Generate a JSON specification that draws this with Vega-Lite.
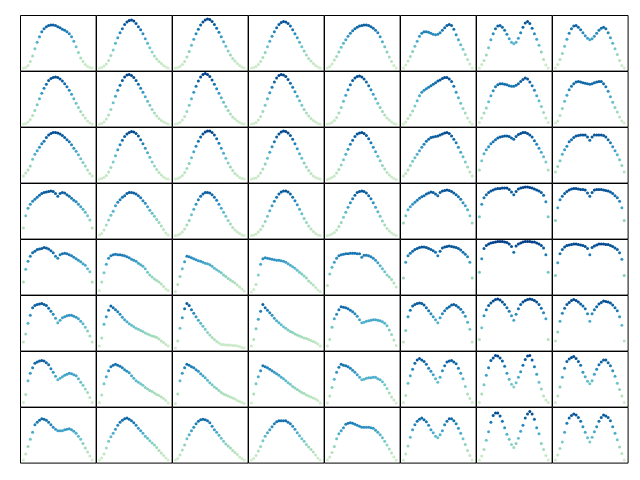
{
"$schema": "https://vega.github.io/schema/vega-lite/v6.json",
"background": "white",
"padding": {"left": 19, "top": 14, "right": 0, "bottom": 0},
"bounds": "flush",
"data": {"values": [
{"p":0,"x":0,"y":0},{"p":0,"x":1,"y":1},{"p":0,"x":2,"y":5},{"p":0,"x":3,"y":13},{"p":0,"x":4,"y":24},{"p":0,"x":5,"y":38},{"p":0,"x":6,"y":51},{"p":0,"x":7,"y":62},{"p":0,"x":8,"y":72},{"p":0,"x":9,"y":78},{"p":0,"x":10,"y":82},{"p":0,"x":11,"y":84},{"p":0,"x":12,"y":85},{"p":0,"x":13,"y":85},{"p":0,"x":14,"y":84},{"p":0,"x":15,"y":82},{"p":0,"x":16,"y":80},{"p":0,"x":17,"y":77},{"p":0,"x":18,"y":75},{"p":0,"x":19,"y":72},{"p":0,"x":20,"y":68},{"p":0,"x":21,"y":62},{"p":0,"x":22,"y":53},{"p":0,"x":23,"y":42},{"p":0,"x":24,"y":31},{"p":0,"x":25,"y":20},{"p":0,"x":26,"y":13},{"p":0,"x":27,"y":7},{"p":0,"x":28,"y":3},{"p":0,"x":29,"y":1},{"p":0,"x":30,"y":0},
{"p":1,"x":0,"y":0},{"p":1,"x":1,"y":1},{"p":1,"x":2,"y":4},{"p":1,"x":3,"y":8},{"p":1,"x":4,"y":15},{"p":1,"x":5,"y":25},{"p":1,"x":6,"y":36},{"p":1,"x":7,"y":49},{"p":1,"x":8,"y":60},{"p":1,"x":9,"y":70},{"p":1,"x":10,"y":78},{"p":1,"x":11,"y":86},{"p":1,"x":12,"y":91},{"p":1,"x":13,"y":94},{"p":1,"x":14,"y":95},{"p":1,"x":15,"y":93},{"p":1,"x":16,"y":88},{"p":1,"x":17,"y":82},{"p":1,"x":18,"y":76},{"p":1,"x":19,"y":68},{"p":1,"x":20,"y":58},{"p":1,"x":21,"y":49},{"p":1,"x":22,"y":40},{"p":1,"x":23,"y":32},{"p":1,"x":24,"y":24},{"p":1,"x":25,"y":18},{"p":1,"x":26,"y":13},{"p":1,"x":27,"y":9},{"p":1,"x":28,"y":5},{"p":1,"x":29,"y":2},{"p":1,"x":30,"y":0},
{"p":2,"x":0,"y":0},{"p":2,"x":1,"y":1},{"p":2,"x":2,"y":3},{"p":2,"x":3,"y":7},{"p":2,"x":4,"y":13},{"p":2,"x":5,"y":22},{"p":2,"x":6,"y":33},{"p":2,"x":7,"y":45},{"p":2,"x":8,"y":57},{"p":2,"x":9,"y":68},{"p":2,"x":10,"y":77},{"p":2,"x":11,"y":85},{"p":2,"x":12,"y":91},{"p":2,"x":13,"y":95},{"p":2,"x":14,"y":97},{"p":2,"x":15,"y":96},{"p":2,"x":16,"y":92},{"p":2,"x":17,"y":86},{"p":2,"x":18,"y":79},{"p":2,"x":19,"y":71},{"p":2,"x":20,"y":62},{"p":2,"x":21,"y":52},{"p":2,"x":22,"y":43},{"p":2,"x":23,"y":34},{"p":2,"x":24,"y":26},{"p":2,"x":25,"y":19},{"p":2,"x":26,"y":14},{"p":2,"x":27,"y":9},{"p":2,"x":28,"y":5},{"p":2,"x":29,"y":2},{"p":2,"x":30,"y":0},
{"p":3,"x":0,"y":0},{"p":3,"x":1,"y":1},{"p":3,"x":2,"y":3},{"p":3,"x":3,"y":7},{"p":3,"x":4,"y":13},{"p":3,"x":5,"y":21},{"p":3,"x":6,"y":31},{"p":3,"x":7,"y":42},{"p":3,"x":8,"y":53},{"p":3,"x":9,"y":63},{"p":3,"x":10,"y":72},{"p":3,"x":11,"y":80},{"p":3,"x":12,"y":86},{"p":3,"x":13,"y":90},{"p":3,"x":14,"y":92},{"p":3,"x":15,"y":91},{"p":3,"x":16,"y":88},{"p":3,"x":17,"y":83},{"p":3,"x":18,"y":76},{"p":3,"x":19,"y":68},{"p":3,"x":20,"y":60},{"p":3,"x":21,"y":51},{"p":3,"x":22,"y":42},{"p":3,"x":23,"y":34},{"p":3,"x":24,"y":26},{"p":3,"x":25,"y":19},{"p":3,"x":26,"y":14},{"p":3,"x":27,"y":9},{"p":3,"x":28,"y":5},{"p":3,"x":29,"y":2},{"p":3,"x":30,"y":0},
{"p":4,"x":0,"y":0},{"p":4,"x":1,"y":3},{"p":4,"x":2,"y":8},{"p":4,"x":3,"y":16},{"p":4,"x":4,"y":23},{"p":4,"x":5,"y":32},{"p":4,"x":6,"y":41},{"p":4,"x":7,"y":49},{"p":4,"x":8,"y":56},{"p":4,"x":9,"y":63},{"p":4,"x":10,"y":69},{"p":4,"x":11,"y":74},{"p":4,"x":12,"y":78},{"p":4,"x":13,"y":81},{"p":4,"x":14,"y":83},{"p":4,"x":15,"y":84},{"p":4,"x":16,"y":85},{"p":4,"x":17,"y":85},{"p":4,"x":18,"y":84},{"p":4,"x":19,"y":82},{"p":4,"x":20,"y":79},{"p":4,"x":21,"y":75},{"p":4,"x":22,"y":70},{"p":4,"x":23,"y":62},{"p":4,"x":24,"y":52},{"p":4,"x":25,"y":42},{"p":4,"x":26,"y":32},{"p":4,"x":27,"y":22},{"p":4,"x":28,"y":13},{"p":4,"x":29,"y":5},{"p":4,"x":30,"y":0},
{"p":5,"x":0,"y":0},{"p":5,"x":1,"y":6},{"p":5,"x":2,"y":14},{"p":5,"x":3,"y":23},{"p":5,"x":4,"y":33},{"p":5,"x":5,"y":43},{"p":5,"x":6,"y":53},{"p":5,"x":7,"y":63},{"p":5,"x":8,"y":69},{"p":5,"x":9,"y":72},{"p":5,"x":10,"y":72},{"p":5,"x":11,"y":71},{"p":5,"x":12,"y":69},{"p":5,"x":13,"y":67},{"p":5,"x":14,"y":66},{"p":5,"x":15,"y":67},{"p":5,"x":16,"y":70},{"p":5,"x":17,"y":75},{"p":5,"x":18,"y":80},{"p":5,"x":19,"y":84},{"p":5,"x":20,"y":86},{"p":5,"x":21,"y":84},{"p":5,"x":22,"y":77},{"p":5,"x":23,"y":66},{"p":5,"x":24,"y":56},{"p":5,"x":25,"y":46},{"p":5,"x":26,"y":37},{"p":5,"x":27,"y":27},{"p":5,"x":28,"y":17},{"p":5,"x":29,"y":8},{"p":5,"x":30,"y":0},
{"p":6,"x":0,"y":0},{"p":6,"x":1,"y":7},{"p":6,"x":2,"y":15},{"p":6,"x":3,"y":26},{"p":6,"x":4,"y":40},{"p":6,"x":5,"y":56},{"p":6,"x":6,"y":68},{"p":6,"x":7,"y":78},{"p":6,"x":8,"y":83},{"p":6,"x":9,"y":84},{"p":6,"x":10,"y":81},{"p":6,"x":11,"y":75},{"p":6,"x":12,"y":67},{"p":6,"x":13,"y":58},{"p":6,"x":14,"y":51},{"p":6,"x":15,"y":48},{"p":6,"x":16,"y":51},{"p":6,"x":17,"y":59},{"p":6,"x":18,"y":70},{"p":6,"x":19,"y":81},{"p":6,"x":20,"y":89},{"p":6,"x":21,"y":92},{"p":6,"x":22,"y":88},{"p":6,"x":23,"y":79},{"p":6,"x":24,"y":68},{"p":6,"x":25,"y":57},{"p":6,"x":26,"y":45},{"p":6,"x":27,"y":32},{"p":6,"x":28,"y":17},{"p":6,"x":29,"y":6},{"p":6,"x":30,"y":0},
{"p":7,"x":0,"y":0},{"p":7,"x":1,"y":7},{"p":7,"x":2,"y":17},{"p":7,"x":3,"y":29},{"p":7,"x":4,"y":43},{"p":7,"x":5,"y":57},{"p":7,"x":6,"y":69},{"p":7,"x":7,"y":78},{"p":7,"x":8,"y":83},{"p":7,"x":9,"y":84},{"p":7,"x":10,"y":81},{"p":7,"x":11,"y":76},{"p":7,"x":12,"y":70},{"p":7,"x":13,"y":64},{"p":7,"x":14,"y":59},{"p":7,"x":15,"y":56},{"p":7,"x":16,"y":58},{"p":7,"x":17,"y":63},{"p":7,"x":18,"y":69},{"p":7,"x":19,"y":75},{"p":7,"x":20,"y":79},{"p":7,"x":21,"y":81},{"p":7,"x":22,"y":78},{"p":7,"x":23,"y":70},{"p":7,"x":24,"y":60},{"p":7,"x":25,"y":49},{"p":7,"x":26,"y":38},{"p":7,"x":27,"y":27},{"p":7,"x":28,"y":15},{"p":7,"x":29,"y":5},{"p":7,"x":30,"y":0},
{"p":8,"x":0,"y":0},{"p":8,"x":1,"y":1},{"p":8,"x":2,"y":4},{"p":8,"x":3,"y":9},{"p":8,"x":4,"y":17},{"p":8,"x":5,"y":27},{"p":8,"x":6,"y":38},{"p":8,"x":7,"y":50},{"p":8,"x":8,"y":61},{"p":8,"x":9,"y":71},{"p":8,"x":10,"y":79},{"p":8,"x":11,"y":86},{"p":8,"x":12,"y":90},{"p":8,"x":13,"y":92},{"p":8,"x":14,"y":93},{"p":8,"x":15,"y":92},{"p":8,"x":16,"y":89},{"p":8,"x":17,"y":85},{"p":8,"x":18,"y":80},{"p":8,"x":19,"y":74},{"p":8,"x":20,"y":67},{"p":8,"x":21,"y":59},{"p":8,"x":22,"y":50},{"p":8,"x":23,"y":41},{"p":8,"x":24,"y":33},{"p":8,"x":25,"y":25},{"p":8,"x":26,"y":18},{"p":8,"x":27,"y":12},{"p":8,"x":28,"y":6},{"p":8,"x":29,"y":2},{"p":8,"x":30,"y":0},
{"p":9,"x":0,"y":0},{"p":9,"x":1,"y":1},{"p":9,"x":2,"y":4},{"p":9,"x":3,"y":10},{"p":9,"x":4,"y":18},{"p":9,"x":5,"y":29},{"p":9,"x":6,"y":42},{"p":9,"x":7,"y":55},{"p":9,"x":8,"y":67},{"p":9,"x":9,"y":77},{"p":9,"x":10,"y":86},{"p":9,"x":11,"y":93},{"p":9,"x":12,"y":97},{"p":9,"x":13,"y":98},{"p":9,"x":14,"y":96},{"p":9,"x":15,"y":92},{"p":9,"x":16,"y":86},{"p":9,"x":17,"y":79},{"p":9,"x":18,"y":71},{"p":9,"x":19,"y":63},{"p":9,"x":20,"y":54},{"p":9,"x":21,"y":45},{"p":9,"x":22,"y":37},{"p":9,"x":23,"y":29},{"p":9,"x":24,"y":22},{"p":9,"x":25,"y":16},{"p":9,"x":26,"y":11},{"p":9,"x":27,"y":7},{"p":9,"x":28,"y":4},{"p":9,"x":29,"y":2},{"p":9,"x":30,"y":0},
{"p":10,"x":0,"y":0},{"p":10,"x":1,"y":1},{"p":10,"x":2,"y":3},{"p":10,"x":3,"y":8},{"p":10,"x":4,"y":15},{"p":10,"x":5,"y":25},{"p":10,"x":6,"y":37},{"p":10,"x":7,"y":50},{"p":10,"x":8,"y":63},{"p":10,"x":9,"y":75},{"p":10,"x":10,"y":85},{"p":10,"x":11,"y":93},{"p":10,"x":12,"y":98},{"p":10,"x":13,"y":100},{"p":10,"x":14,"y":98},{"p":10,"x":15,"y":94},{"p":10,"x":16,"y":87},{"p":10,"x":17,"y":79},{"p":10,"x":18,"y":70},{"p":10,"x":19,"y":61},{"p":10,"x":20,"y":52},{"p":10,"x":21,"y":43},{"p":10,"x":22,"y":35},{"p":10,"x":23,"y":27},{"p":10,"x":24,"y":20},{"p":10,"x":25,"y":14},{"p":10,"x":26,"y":10},{"p":10,"x":27,"y":6},{"p":10,"x":28,"y":3},{"p":10,"x":29,"y":1},{"p":10,"x":30,"y":0},
{"p":11,"x":0,"y":0},{"p":11,"x":1,"y":1},{"p":11,"x":2,"y":3},{"p":11,"x":3,"y":8},{"p":11,"x":4,"y":15},{"p":11,"x":5,"y":25},{"p":11,"x":6,"y":37},{"p":11,"x":7,"y":50},{"p":11,"x":8,"y":62},{"p":11,"x":9,"y":73},{"p":11,"x":10,"y":83},{"p":11,"x":11,"y":91},{"p":11,"x":12,"y":96},{"p":11,"x":13,"y":98},{"p":11,"x":14,"y":97},{"p":11,"x":15,"y":94},{"p":11,"x":16,"y":88},{"p":11,"x":17,"y":81},{"p":11,"x":18,"y":73},{"p":11,"x":19,"y":64},{"p":11,"x":20,"y":55},{"p":11,"x":21,"y":46},{"p":11,"x":22,"y":37},{"p":11,"x":23,"y":29},{"p":11,"x":24,"y":22},{"p":11,"x":25,"y":16},{"p":11,"x":26,"y":11},{"p":11,"x":27,"y":7},{"p":11,"x":28,"y":4},{"p":11,"x":29,"y":1},{"p":11,"x":30,"y":0},
{"p":12,"x":0,"y":0},{"p":12,"x":1,"y":1},{"p":12,"x":2,"y":3},{"p":12,"x":3,"y":7},{"p":12,"x":4,"y":13},{"p":12,"x":5,"y":22},{"p":12,"x":6,"y":33},{"p":12,"x":7,"y":45},{"p":12,"x":8,"y":57},{"p":12,"x":9,"y":68},{"p":12,"x":10,"y":78},{"p":12,"x":11,"y":86},{"p":12,"x":12,"y":91},{"p":12,"x":13,"y":94},{"p":12,"x":14,"y":95},{"p":12,"x":15,"y":93},{"p":12,"x":16,"y":89},{"p":12,"x":17,"y":83},{"p":12,"x":18,"y":76},{"p":12,"x":19,"y":68},{"p":12,"x":20,"y":59},{"p":12,"x":21,"y":50},{"p":12,"x":22,"y":41},{"p":12,"x":23,"y":33},{"p":12,"x":24,"y":25},{"p":12,"x":25,"y":18},{"p":12,"x":26,"y":12},{"p":12,"x":27,"y":8},{"p":12,"x":28,"y":4},{"p":12,"x":29,"y":1},{"p":12,"x":30,"y":0},
{"p":13,"x":0,"y":0},{"p":13,"x":1,"y":4},{"p":13,"x":2,"y":11},{"p":13,"x":3,"y":18},{"p":13,"x":4,"y":26},{"p":13,"x":5,"y":36},{"p":13,"x":6,"y":46},{"p":13,"x":7,"y":56},{"p":13,"x":8,"y":63},{"p":13,"x":9,"y":67},{"p":13,"x":10,"y":70},{"p":13,"x":11,"y":73},{"p":13,"x":12,"y":76},{"p":13,"x":13,"y":79},{"p":13,"x":14,"y":82},{"p":13,"x":15,"y":85},{"p":13,"x":16,"y":87},{"p":13,"x":17,"y":90},{"p":13,"x":18,"y":92},{"p":13,"x":19,"y":92},{"p":13,"x":20,"y":89},{"p":13,"x":21,"y":84},{"p":13,"x":22,"y":75},{"p":13,"x":23,"y":63},{"p":13,"x":24,"y":52},{"p":13,"x":25,"y":41},{"p":13,"x":26,"y":31},{"p":13,"x":27,"y":22},{"p":13,"x":28,"y":12},{"p":13,"x":29,"y":4},{"p":13,"x":30,"y":0},
{"p":14,"x":0,"y":3},{"p":14,"x":1,"y":12},{"p":14,"x":2,"y":22},{"p":14,"x":3,"y":32},{"p":14,"x":4,"y":44},{"p":14,"x":5,"y":56},{"p":14,"x":6,"y":66},{"p":14,"x":7,"y":74},{"p":14,"x":8,"y":78},{"p":14,"x":9,"y":80},{"p":14,"x":10,"y":80},{"p":14,"x":11,"y":79},{"p":14,"x":12,"y":78},{"p":14,"x":13,"y":76},{"p":14,"x":14,"y":75},{"p":14,"x":15,"y":75},{"p":14,"x":16,"y":77},{"p":14,"x":17,"y":80},{"p":14,"x":18,"y":84},{"p":14,"x":19,"y":88},{"p":14,"x":20,"y":91},{"p":14,"x":21,"y":89},{"p":14,"x":22,"y":83},{"p":14,"x":23,"y":76},{"p":14,"x":24,"y":67},{"p":14,"x":25,"y":56},{"p":14,"x":26,"y":46},{"p":14,"x":27,"y":35},{"p":14,"x":28,"y":23},{"p":14,"x":29,"y":12},{"p":14,"x":30,"y":3},
{"p":15,"x":0,"y":2},{"p":15,"x":1,"y":6},{"p":15,"x":2,"y":17},{"p":15,"x":3,"y":31},{"p":15,"x":4,"y":45},{"p":15,"x":5,"y":57},{"p":15,"x":6,"y":68},{"p":15,"x":7,"y":75},{"p":15,"x":8,"y":80},{"p":15,"x":9,"y":83},{"p":15,"x":10,"y":84},{"p":15,"x":11,"y":83},{"p":15,"x":12,"y":82},{"p":15,"x":13,"y":81},{"p":15,"x":14,"y":80},{"p":15,"x":15,"y":79},{"p":15,"x":16,"y":80},{"p":15,"x":17,"y":82},{"p":15,"x":18,"y":83},{"p":15,"x":19,"y":84},{"p":15,"x":20,"y":84},{"p":15,"x":21,"y":80},{"p":15,"x":22,"y":74},{"p":15,"x":23,"y":65},{"p":15,"x":24,"y":54},{"p":15,"x":25,"y":43},{"p":15,"x":26,"y":33},{"p":15,"x":27,"y":24},{"p":15,"x":28,"y":14},{"p":15,"x":29,"y":6},{"p":15,"x":30,"y":2},
{"p":16,"x":0,"y":8},{"p":16,"x":1,"y":14},{"p":16,"x":2,"y":20},{"p":16,"x":3,"y":28},{"p":16,"x":4,"y":41},{"p":16,"x":5,"y":51},{"p":16,"x":6,"y":58},{"p":16,"x":7,"y":65},{"p":16,"x":8,"y":72},{"p":16,"x":9,"y":77},{"p":16,"x":10,"y":84},{"p":16,"x":11,"y":89},{"p":16,"x":12,"y":92},{"p":16,"x":13,"y":94},{"p":16,"x":14,"y":94},{"p":16,"x":15,"y":93},{"p":16,"x":16,"y":91},{"p":16,"x":17,"y":88},{"p":16,"x":18,"y":84},{"p":16,"x":19,"y":80},{"p":16,"x":20,"y":76},{"p":16,"x":21,"y":70},{"p":16,"x":22,"y":63},{"p":16,"x":23,"y":57},{"p":16,"x":24,"y":50},{"p":16,"x":25,"y":42},{"p":16,"x":26,"y":35},{"p":16,"x":27,"y":28},{"p":16,"x":28,"y":20},{"p":16,"x":29,"y":13},{"p":16,"x":30,"y":8},
{"p":17,"x":0,"y":2},{"p":17,"x":1,"y":3},{"p":17,"x":2,"y":5},{"p":17,"x":3,"y":9},{"p":17,"x":4,"y":16},{"p":17,"x":5,"y":25},{"p":17,"x":6,"y":36},{"p":17,"x":7,"y":48},{"p":17,"x":8,"y":60},{"p":17,"x":9,"y":70},{"p":17,"x":10,"y":79},{"p":17,"x":11,"y":86},{"p":17,"x":12,"y":91},{"p":17,"x":13,"y":94},{"p":17,"x":14,"y":96},{"p":17,"x":15,"y":95},{"p":17,"x":16,"y":92},{"p":17,"x":17,"y":87},{"p":17,"x":18,"y":80},{"p":17,"x":19,"y":72},{"p":17,"x":20,"y":63},{"p":17,"x":21,"y":54},{"p":17,"x":22,"y":45},{"p":17,"x":23,"y":36},{"p":17,"x":24,"y":28},{"p":17,"x":25,"y":21},{"p":17,"x":26,"y":15},{"p":17,"x":27,"y":10},{"p":17,"x":28,"y":6},{"p":17,"x":29,"y":3},{"p":17,"x":30,"y":2},
{"p":18,"x":0,"y":2},{"p":18,"x":1,"y":3},{"p":18,"x":2,"y":5},{"p":18,"x":3,"y":9},{"p":18,"x":4,"y":15},{"p":18,"x":5,"y":23},{"p":18,"x":6,"y":33},{"p":18,"x":7,"y":44},{"p":18,"x":8,"y":56},{"p":18,"x":9,"y":67},{"p":18,"x":10,"y":77},{"p":18,"x":11,"y":85},{"p":18,"x":12,"y":91},{"p":18,"x":13,"y":95},{"p":18,"x":14,"y":97},{"p":18,"x":15,"y":97},{"p":18,"x":16,"y":94},{"p":18,"x":17,"y":89},{"p":18,"x":18,"y":82},{"p":18,"x":19,"y":73},{"p":18,"x":20,"y":63},{"p":18,"x":21,"y":53},{"p":18,"x":22,"y":43},{"p":18,"x":23,"y":34},{"p":18,"x":24,"y":26},{"p":18,"x":25,"y":19},{"p":18,"x":26,"y":13},{"p":18,"x":27,"y":9},{"p":18,"x":28,"y":5},{"p":18,"x":29,"y":3},{"p":18,"x":30,"y":2},
{"p":19,"x":0,"y":2},{"p":19,"x":1,"y":3},{"p":19,"x":2,"y":4},{"p":19,"x":3,"y":8},{"p":19,"x":4,"y":14},{"p":19,"x":5,"y":22},{"p":19,"x":6,"y":32},{"p":19,"x":7,"y":43},{"p":19,"x":8,"y":55},{"p":19,"x":9,"y":66},{"p":19,"x":10,"y":76},{"p":19,"x":11,"y":85},{"p":19,"x":12,"y":91},{"p":19,"x":13,"y":95},{"p":19,"x":14,"y":97},{"p":19,"x":15,"y":96},{"p":19,"x":16,"y":93},{"p":19,"x":17,"y":88},{"p":19,"x":18,"y":81},{"p":19,"x":19,"y":72},{"p":19,"x":20,"y":62},{"p":19,"x":21,"y":52},{"p":19,"x":22,"y":43},{"p":19,"x":23,"y":34},{"p":19,"x":24,"y":26},{"p":19,"x":25,"y":19},{"p":19,"x":26,"y":13},{"p":19,"x":27,"y":8},{"p":19,"x":28,"y":5},{"p":19,"x":29,"y":3},{"p":19,"x":30,"y":2},
{"p":20,"x":0,"y":1},{"p":20,"x":1,"y":3},{"p":20,"x":2,"y":5},{"p":20,"x":3,"y":8},{"p":20,"x":4,"y":14},{"p":20,"x":5,"y":21},{"p":20,"x":6,"y":30},{"p":20,"x":7,"y":40},{"p":20,"x":8,"y":51},{"p":20,"x":9,"y":61},{"p":20,"x":10,"y":71},{"p":20,"x":11,"y":79},{"p":20,"x":12,"y":86},{"p":20,"x":13,"y":91},{"p":20,"x":14,"y":93},{"p":20,"x":15,"y":94},{"p":20,"x":16,"y":92},{"p":20,"x":17,"y":88},{"p":20,"x":18,"y":82},{"p":20,"x":19,"y":74},{"p":20,"x":20,"y":65},{"p":20,"x":21,"y":56},{"p":20,"x":22,"y":47},{"p":20,"x":23,"y":38},{"p":20,"x":24,"y":29},{"p":20,"x":25,"y":22},{"p":20,"x":26,"y":15},{"p":20,"x":27,"y":10},{"p":20,"x":28,"y":6},{"p":20,"x":29,"y":3},{"p":20,"x":30,"y":1},
{"p":21,"x":0,"y":8},{"p":21,"x":1,"y":13},{"p":21,"x":2,"y":20},{"p":21,"x":3,"y":29},{"p":21,"x":4,"y":37},{"p":21,"x":5,"y":44},{"p":21,"x":6,"y":51},{"p":21,"x":7,"y":58},{"p":21,"x":8,"y":65},{"p":21,"x":9,"y":71},{"p":21,"x":10,"y":77},{"p":21,"x":11,"y":81},{"p":21,"x":12,"y":84},{"p":21,"x":13,"y":85},{"p":21,"x":14,"y":86},{"p":21,"x":15,"y":87},{"p":21,"x":16,"y":89},{"p":21,"x":17,"y":91},{"p":21,"x":18,"y":93},{"p":21,"x":19,"y":94},{"p":21,"x":20,"y":92},{"p":21,"x":21,"y":87},{"p":21,"x":22,"y":81},{"p":21,"x":23,"y":74},{"p":21,"x":24,"y":65},{"p":21,"x":25,"y":55},{"p":21,"x":26,"y":46},{"p":21,"x":27,"y":36},{"p":21,"x":28,"y":26},{"p":21,"x":29,"y":16},{"p":21,"x":30,"y":8},
{"p":22,"x":0,"y":20},{"p":22,"x":1,"y":38},{"p":22,"x":2,"y":52},{"p":22,"x":3,"y":60},{"p":22,"x":4,"y":66},{"p":22,"x":5,"y":72},{"p":22,"x":6,"y":76},{"p":22,"x":7,"y":80},{"p":22,"x":8,"y":83},{"p":22,"x":9,"y":85},{"p":22,"x":10,"y":86},{"p":22,"x":11,"y":87},{"p":22,"x":12,"y":87},{"p":22,"x":13,"y":86},{"p":22,"x":14,"y":83},{"p":22,"x":15,"y":81},{"p":22,"x":16,"y":86},{"p":22,"x":17,"y":90},{"p":22,"x":18,"y":92},{"p":22,"x":19,"y":94},{"p":22,"x":20,"y":94},{"p":22,"x":21,"y":92},{"p":22,"x":22,"y":89},{"p":22,"x":23,"y":85},{"p":22,"x":24,"y":78},{"p":22,"x":25,"y":71},{"p":22,"x":26,"y":63},{"p":22,"x":27,"y":55},{"p":22,"x":28,"y":46},{"p":22,"x":29,"y":36},{"p":22,"x":30,"y":20},
{"p":23,"x":0,"y":16},{"p":23,"x":1,"y":27},{"p":23,"x":2,"y":38},{"p":23,"x":3,"y":51},{"p":23,"x":4,"y":60},{"p":23,"x":5,"y":67},{"p":23,"x":6,"y":76},{"p":23,"x":7,"y":80},{"p":23,"x":8,"y":84},{"p":23,"x":9,"y":87},{"p":23,"x":10,"y":88},{"p":23,"x":11,"y":89},{"p":23,"x":12,"y":89},{"p":23,"x":13,"y":89},{"p":23,"x":14,"y":85},{"p":23,"x":15,"y":79},{"p":23,"x":16,"y":85},{"p":23,"x":17,"y":89},{"p":23,"x":18,"y":89},{"p":23,"x":19,"y":89},{"p":23,"x":20,"y":89},{"p":23,"x":21,"y":88},{"p":23,"x":22,"y":85},{"p":23,"x":23,"y":80},{"p":23,"x":24,"y":74},{"p":23,"x":25,"y":66},{"p":23,"x":26,"y":58},{"p":23,"x":27,"y":50},{"p":23,"x":28,"y":40},{"p":23,"x":29,"y":29},{"p":23,"x":30,"y":16},
{"p":24,"x":0,"y":16},{"p":24,"x":1,"y":40},{"p":24,"x":2,"y":55},{"p":24,"x":3,"y":63},{"p":24,"x":4,"y":69},{"p":24,"x":5,"y":73},{"p":24,"x":6,"y":77},{"p":24,"x":7,"y":81},{"p":24,"x":8,"y":84},{"p":24,"x":9,"y":86},{"p":24,"x":10,"y":87},{"p":24,"x":11,"y":88},{"p":24,"x":12,"y":89},{"p":24,"x":13,"y":88},{"p":24,"x":14,"y":84},{"p":24,"x":15,"y":79},{"p":24,"x":16,"y":84},{"p":24,"x":17,"y":86},{"p":24,"x":18,"y":85},{"p":24,"x":19,"y":82},{"p":24,"x":20,"y":79},{"p":24,"x":21,"y":75},{"p":24,"x":22,"y":71},{"p":24,"x":23,"y":68},{"p":24,"x":24,"y":63},{"p":24,"x":25,"y":58},{"p":24,"x":26,"y":53},{"p":24,"x":27,"y":47},{"p":24,"x":28,"y":40},{"p":24,"x":29,"y":32},{"p":24,"x":30,"y":16},
{"p":25,"x":0,"y":2},{"p":25,"x":1,"y":5},{"p":25,"x":2,"y":12},{"p":25,"x":3,"y":22},{"p":25,"x":4,"y":32},{"p":25,"x":5,"y":41},{"p":25,"x":6,"y":49},{"p":25,"x":7,"y":60},{"p":25,"x":8,"y":67},{"p":25,"x":9,"y":72},{"p":25,"x":10,"y":77},{"p":25,"x":11,"y":80},{"p":25,"x":12,"y":84},{"p":25,"x":13,"y":86},{"p":25,"x":14,"y":86},{"p":25,"x":15,"y":85},{"p":25,"x":16,"y":83},{"p":25,"x":17,"y":80},{"p":25,"x":18,"y":76},{"p":25,"x":19,"y":70},{"p":25,"x":20,"y":65},{"p":25,"x":21,"y":58},{"p":25,"x":22,"y":51},{"p":25,"x":23,"y":45},{"p":25,"x":24,"y":39},{"p":25,"x":25,"y":33},{"p":25,"x":26,"y":27},{"p":25,"x":27,"y":20},{"p":25,"x":28,"y":13},{"p":25,"x":29,"y":6},{"p":25,"x":30,"y":2},
{"p":26,"x":0,"y":1},{"p":26,"x":1,"y":2},{"p":26,"x":2,"y":4},{"p":26,"x":3,"y":8},{"p":26,"x":4,"y":14},{"p":26,"x":5,"y":22},{"p":26,"x":6,"y":31},{"p":26,"x":7,"y":42},{"p":26,"x":8,"y":53},{"p":26,"x":9,"y":63},{"p":26,"x":10,"y":72},{"p":26,"x":11,"y":79},{"p":26,"x":12,"y":83},{"p":26,"x":13,"y":86},{"p":26,"x":14,"y":86},{"p":26,"x":15,"y":85},{"p":26,"x":16,"y":82},{"p":26,"x":17,"y":77},{"p":26,"x":18,"y":71},{"p":26,"x":19,"y":63},{"p":26,"x":20,"y":55},{"p":26,"x":21,"y":47},{"p":26,"x":22,"y":39},{"p":26,"x":23,"y":31},{"p":26,"x":24,"y":24},{"p":26,"x":25,"y":17},{"p":26,"x":26,"y":12},{"p":26,"x":27,"y":8},{"p":26,"x":28,"y":5},{"p":26,"x":29,"y":2},{"p":26,"x":30,"y":1},
{"p":27,"x":0,"y":1},{"p":27,"x":1,"y":2},{"p":27,"x":2,"y":4},{"p":27,"x":3,"y":8},{"p":27,"x":4,"y":13},{"p":27,"x":5,"y":20},{"p":27,"x":6,"y":29},{"p":27,"x":7,"y":39},{"p":27,"x":8,"y":50},{"p":27,"x":9,"y":60},{"p":27,"x":10,"y":69},{"p":27,"x":11,"y":77},{"p":27,"x":12,"y":83},{"p":27,"x":13,"y":87},{"p":27,"x":14,"y":89},{"p":27,"x":15,"y":89},{"p":27,"x":16,"y":87},{"p":27,"x":17,"y":83},{"p":27,"x":18,"y":77},{"p":27,"x":19,"y":70},{"p":27,"x":20,"y":62},{"p":27,"x":21,"y":53},{"p":27,"x":22,"y":44},{"p":27,"x":23,"y":35},{"p":27,"x":24,"y":27},{"p":27,"x":25,"y":20},{"p":27,"x":26,"y":14},{"p":27,"x":27,"y":9},{"p":27,"x":28,"y":5},{"p":27,"x":29,"y":2},{"p":27,"x":30,"y":1},
{"p":28,"x":0,"y":1},{"p":28,"x":1,"y":2},{"p":28,"x":2,"y":4},{"p":28,"x":3,"y":7},{"p":28,"x":4,"y":12},{"p":28,"x":5,"y":19},{"p":28,"x":6,"y":27},{"p":28,"x":7,"y":37},{"p":28,"x":8,"y":47},{"p":28,"x":9,"y":57},{"p":28,"x":10,"y":66},{"p":28,"x":11,"y":74},{"p":28,"x":12,"y":81},{"p":28,"x":13,"y":86},{"p":28,"x":14,"y":88},{"p":28,"x":15,"y":89},{"p":28,"x":16,"y":88},{"p":28,"x":17,"y":85},{"p":28,"x":18,"y":80},{"p":28,"x":19,"y":74},{"p":28,"x":20,"y":66},{"p":28,"x":21,"y":57},{"p":28,"x":22,"y":48},{"p":28,"x":23,"y":39},{"p":28,"x":24,"y":30},{"p":28,"x":25,"y":22},{"p":28,"x":26,"y":15},{"p":28,"x":27,"y":10},{"p":28,"x":28,"y":6},{"p":28,"x":29,"y":3},{"p":28,"x":30,"y":1},
{"p":29,"x":0,"y":26},{"p":29,"x":1,"y":40},{"p":29,"x":2,"y":52},{"p":29,"x":3,"y":58},{"p":29,"x":4,"y":63},{"p":29,"x":5,"y":67},{"p":29,"x":6,"y":71},{"p":29,"x":7,"y":75},{"p":29,"x":8,"y":78},{"p":29,"x":9,"y":80},{"p":29,"x":10,"y":83},{"p":29,"x":11,"y":85},{"p":29,"x":12,"y":87},{"p":29,"x":13,"y":86},{"p":29,"x":14,"y":83},{"p":29,"x":15,"y":80},{"p":29,"x":16,"y":86},{"p":29,"x":17,"y":89},{"p":29,"x":18,"y":90},{"p":29,"x":19,"y":91},{"p":29,"x":20,"y":90},{"p":29,"x":21,"y":88},{"p":29,"x":22,"y":85},{"p":29,"x":23,"y":82},{"p":29,"x":24,"y":78},{"p":29,"x":25,"y":73},{"p":29,"x":26,"y":66},{"p":29,"x":27,"y":60},{"p":29,"x":28,"y":52},{"p":29,"x":29,"y":40},{"p":29,"x":30,"y":26},
{"p":30,"x":0,"y":38},{"p":30,"x":1,"y":63},{"p":30,"x":2,"y":76},{"p":30,"x":3,"y":82},{"p":30,"x":4,"y":86},{"p":30,"x":5,"y":89},{"p":30,"x":6,"y":91},{"p":30,"x":7,"y":93},{"p":30,"x":8,"y":94},{"p":30,"x":9,"y":94},{"p":30,"x":10,"y":95},{"p":30,"x":11,"y":95},{"p":30,"x":12,"y":95},{"p":30,"x":13,"y":92},{"p":30,"x":14,"y":87},{"p":30,"x":15,"y":82},{"p":30,"x":16,"y":88},{"p":30,"x":17,"y":93},{"p":30,"x":18,"y":95},{"p":30,"x":19,"y":96},{"p":30,"x":20,"y":97},{"p":30,"x":21,"y":97},{"p":30,"x":22,"y":96},{"p":30,"x":23,"y":95},{"p":30,"x":24,"y":93},{"p":30,"x":25,"y":91},{"p":30,"x":26,"y":89},{"p":30,"x":27,"y":86},{"p":30,"x":28,"y":81},{"p":30,"x":29,"y":68},{"p":30,"x":30,"y":38},
{"p":31,"x":0,"y":31},{"p":31,"x":1,"y":56},{"p":31,"x":2,"y":72},{"p":31,"x":3,"y":79},{"p":31,"x":4,"y":84},{"p":31,"x":5,"y":88},{"p":31,"x":6,"y":91},{"p":31,"x":7,"y":93},{"p":31,"x":8,"y":94},{"p":31,"x":9,"y":94},{"p":31,"x":10,"y":93},{"p":31,"x":11,"y":92},{"p":31,"x":12,"y":92},{"p":31,"x":13,"y":91},{"p":31,"x":14,"y":85},{"p":31,"x":15,"y":79},{"p":31,"x":16,"y":86},{"p":31,"x":17,"y":91},{"p":31,"x":18,"y":92},{"p":31,"x":19,"y":92},{"p":31,"x":20,"y":92},{"p":31,"x":21,"y":91},{"p":31,"x":22,"y":90},{"p":31,"x":23,"y":89},{"p":31,"x":24,"y":87},{"p":31,"x":25,"y":84},{"p":31,"x":26,"y":80},{"p":31,"x":27,"y":76},{"p":31,"x":28,"y":69},{"p":31,"x":29,"y":56},{"p":31,"x":30,"y":31},
{"p":32,"x":0,"y":20},{"p":32,"x":1,"y":45},{"p":32,"x":2,"y":61},{"p":32,"x":3,"y":71},{"p":32,"x":4,"y":78},{"p":32,"x":5,"y":81},{"p":32,"x":6,"y":84},{"p":32,"x":7,"y":85},{"p":32,"x":8,"y":86},{"p":32,"x":9,"y":88},{"p":32,"x":10,"y":87},{"p":32,"x":11,"y":85},{"p":32,"x":12,"y":82},{"p":32,"x":13,"y":78},{"p":32,"x":14,"y":71},{"p":32,"x":15,"y":67},{"p":32,"x":16,"y":74},{"p":32,"x":17,"y":76},{"p":32,"x":18,"y":77},{"p":32,"x":19,"y":76},{"p":32,"x":20,"y":74},{"p":32,"x":21,"y":72},{"p":32,"x":22,"y":69},{"p":32,"x":23,"y":66},{"p":32,"x":24,"y":63},{"p":32,"x":25,"y":60},{"p":32,"x":26,"y":56},{"p":32,"x":27,"y":53},{"p":32,"x":28,"y":46},{"p":32,"x":29,"y":40},{"p":32,"x":30,"y":20},
{"p":33,"x":0,"y":3},{"p":33,"x":1,"y":20},{"p":33,"x":2,"y":38},{"p":33,"x":3,"y":55},{"p":33,"x":4,"y":67},{"p":33,"x":5,"y":72},{"p":33,"x":6,"y":74},{"p":33,"x":7,"y":75},{"p":33,"x":8,"y":74},{"p":33,"x":9,"y":74},{"p":33,"x":10,"y":73},{"p":33,"x":11,"y":72},{"p":33,"x":12,"y":70},{"p":33,"x":13,"y":68},{"p":33,"x":14,"y":65},{"p":33,"x":15,"y":63},{"p":33,"x":16,"y":61},{"p":33,"x":17,"y":57},{"p":33,"x":18,"y":54},{"p":33,"x":19,"y":51},{"p":33,"x":20,"y":46},{"p":33,"x":21,"y":39},{"p":33,"x":22,"y":34},{"p":33,"x":23,"y":30},{"p":33,"x":24,"y":26},{"p":33,"x":25,"y":23},{"p":33,"x":26,"y":20},{"p":33,"x":27,"y":16},{"p":33,"x":28,"y":11},{"p":33,"x":29,"y":6},{"p":33,"x":30,"y":3},
{"p":34,"x":0,"y":1},{"p":34,"x":1,"y":15},{"p":34,"x":2,"y":31},{"p":34,"x":3,"y":46},{"p":34,"x":4,"y":60},{"p":34,"x":5,"y":71},{"p":34,"x":6,"y":70},{"p":34,"x":7,"y":68},{"p":34,"x":8,"y":66},{"p":34,"x":9,"y":64},{"p":34,"x":10,"y":62},{"p":34,"x":11,"y":61},{"p":34,"x":12,"y":59},{"p":34,"x":13,"y":57},{"p":34,"x":14,"y":56},{"p":34,"x":15,"y":54},{"p":34,"x":16,"y":51},{"p":34,"x":17,"y":47},{"p":34,"x":18,"y":44},{"p":34,"x":19,"y":41},{"p":34,"x":20,"y":38},{"p":34,"x":21,"y":34},{"p":34,"x":22,"y":31},{"p":34,"x":23,"y":27},{"p":34,"x":24,"y":24},{"p":34,"x":25,"y":21},{"p":34,"x":26,"y":18},{"p":34,"x":27,"y":14},{"p":34,"x":28,"y":10},{"p":34,"x":29,"y":6},{"p":34,"x":30,"y":2},
{"p":35,"x":0,"y":0},{"p":35,"x":1,"y":5},{"p":35,"x":2,"y":15},{"p":35,"x":3,"y":34},{"p":35,"x":4,"y":55},{"p":35,"x":5,"y":66},{"p":35,"x":6,"y":68},{"p":35,"x":7,"y":67},{"p":35,"x":8,"y":66},{"p":35,"x":9,"y":65},{"p":35,"x":10,"y":64},{"p":35,"x":11,"y":63},{"p":35,"x":12,"y":63},{"p":35,"x":13,"y":62},{"p":35,"x":14,"y":61},{"p":35,"x":15,"y":59},{"p":35,"x":16,"y":56},{"p":35,"x":17,"y":53},{"p":35,"x":18,"y":50},{"p":35,"x":19,"y":47},{"p":35,"x":20,"y":43},{"p":35,"x":21,"y":39},{"p":35,"x":22,"y":36},{"p":35,"x":23,"y":32},{"p":35,"x":24,"y":28},{"p":35,"x":25,"y":22},{"p":35,"x":26,"y":18},{"p":35,"x":27,"y":14},{"p":35,"x":28,"y":9},{"p":35,"x":29,"y":4},{"p":35,"x":30,"y":1},
{"p":36,"x":0,"y":13},{"p":36,"x":1,"y":36},{"p":36,"x":2,"y":49},{"p":36,"x":3,"y":59},{"p":36,"x":4,"y":67},{"p":36,"x":5,"y":72},{"p":36,"x":6,"y":74},{"p":36,"x":7,"y":75},{"p":36,"x":8,"y":76},{"p":36,"x":9,"y":76},{"p":36,"x":10,"y":77},{"p":36,"x":11,"y":77},{"p":36,"x":12,"y":77},{"p":36,"x":13,"y":76},{"p":36,"x":14,"y":76},{"p":36,"x":15,"y":69},{"p":36,"x":16,"y":73},{"p":36,"x":17,"y":73},{"p":36,"x":18,"y":72},{"p":36,"x":19,"y":70},{"p":36,"x":20,"y":67},{"p":36,"x":21,"y":63},{"p":36,"x":22,"y":58},{"p":36,"x":23,"y":52},{"p":36,"x":24,"y":46},{"p":36,"x":25,"y":40},{"p":36,"x":26,"y":34},{"p":36,"x":27,"y":30},{"p":36,"x":28,"y":25},{"p":36,"x":29,"y":18},{"p":36,"x":30,"y":10},
{"p":37,"x":0,"y":28},{"p":37,"x":1,"y":59},{"p":37,"x":2,"y":72},{"p":37,"x":3,"y":77},{"p":37,"x":4,"y":81},{"p":37,"x":5,"y":84},{"p":37,"x":6,"y":86},{"p":37,"x":7,"y":88},{"p":37,"x":8,"y":89},{"p":37,"x":9,"y":89},{"p":37,"x":10,"y":88},{"p":37,"x":11,"y":86},{"p":37,"x":12,"y":84},{"p":37,"x":13,"y":82},{"p":37,"x":14,"y":79},{"p":37,"x":15,"y":72},{"p":37,"x":16,"y":81},{"p":37,"x":17,"y":87},{"p":37,"x":18,"y":89},{"p":37,"x":19,"y":90},{"p":37,"x":20,"y":91},{"p":37,"x":21,"y":90},{"p":37,"x":22,"y":89},{"p":37,"x":23,"y":88},{"p":37,"x":24,"y":86},{"p":37,"x":25,"y":83},{"p":37,"x":26,"y":79},{"p":37,"x":27,"y":75},{"p":37,"x":28,"y":70},{"p":37,"x":29,"y":59},{"p":37,"x":30,"y":28},
{"p":38,"x":0,"y":39},{"p":38,"x":1,"y":66},{"p":38,"x":2,"y":86},{"p":38,"x":3,"y":92},{"p":38,"x":4,"y":95},{"p":38,"x":5,"y":97},{"p":38,"x":6,"y":98},{"p":38,"x":7,"y":99},{"p":38,"x":8,"y":100},{"p":38,"x":9,"y":100},{"p":38,"x":10,"y":100},{"p":38,"x":11,"y":99},{"p":38,"x":12,"y":98},{"p":38,"x":13,"y":95},{"p":38,"x":14,"y":90},{"p":38,"x":15,"y":79},{"p":38,"x":16,"y":91},{"p":38,"x":17,"y":95},{"p":38,"x":18,"y":97},{"p":38,"x":19,"y":99},{"p":38,"x":20,"y":100},{"p":38,"x":21,"y":100},{"p":38,"x":22,"y":100},{"p":38,"x":23,"y":99},{"p":38,"x":24,"y":99},{"p":38,"x":25,"y":97},{"p":38,"x":26,"y":95},{"p":38,"x":27,"y":92},{"p":38,"x":28,"y":87},{"p":38,"x":29,"y":74},{"p":38,"x":30,"y":39},
{"p":39,"x":0,"y":33},{"p":39,"x":1,"y":58},{"p":39,"x":2,"y":76},{"p":39,"x":3,"y":84},{"p":39,"x":4,"y":89},{"p":39,"x":5,"y":92},{"p":39,"x":6,"y":93},{"p":39,"x":7,"y":94},{"p":39,"x":8,"y":95},{"p":39,"x":9,"y":95},{"p":39,"x":10,"y":94},{"p":39,"x":11,"y":93},{"p":39,"x":12,"y":92},{"p":39,"x":13,"y":90},{"p":39,"x":14,"y":86},{"p":39,"x":15,"y":74},{"p":39,"x":16,"y":88},{"p":39,"x":17,"y":91},{"p":39,"x":18,"y":93},{"p":39,"x":19,"y":95},{"p":39,"x":20,"y":95},{"p":39,"x":21,"y":95},{"p":39,"x":22,"y":94},{"p":39,"x":23,"y":94},{"p":39,"x":24,"y":92},{"p":39,"x":25,"y":90},{"p":39,"x":26,"y":87},{"p":39,"x":27,"y":84},{"p":39,"x":28,"y":78},{"p":39,"x":29,"y":65},{"p":39,"x":30,"y":33},
{"p":40,"x":0,"y":12},{"p":40,"x":1,"y":28},{"p":40,"x":2,"y":49},{"p":40,"x":3,"y":65},{"p":40,"x":4,"y":80},{"p":40,"x":5,"y":84},{"p":40,"x":6,"y":86},{"p":40,"x":7,"y":87},{"p":40,"x":8,"y":88},{"p":40,"x":9,"y":86},{"p":40,"x":10,"y":84},{"p":40,"x":11,"y":79},{"p":40,"x":12,"y":73},{"p":40,"x":13,"y":67},{"p":40,"x":14,"y":59},{"p":40,"x":15,"y":50},{"p":40,"x":16,"y":55},{"p":40,"x":17,"y":60},{"p":40,"x":18,"y":62},{"p":40,"x":19,"y":64},{"p":40,"x":20,"y":65},{"p":40,"x":21,"y":65},{"p":40,"x":22,"y":63},{"p":40,"x":23,"y":61},{"p":40,"x":24,"y":58},{"p":40,"x":25,"y":53},{"p":40,"x":26,"y":48},{"p":40,"x":27,"y":41},{"p":40,"x":28,"y":34},{"p":40,"x":29,"y":24},{"p":40,"x":30,"y":12},
{"p":41,"x":0,"y":4},{"p":41,"x":1,"y":20},{"p":41,"x":2,"y":47},{"p":41,"x":3,"y":62},{"p":41,"x":4,"y":75},{"p":41,"x":5,"y":83},{"p":41,"x":6,"y":80},{"p":41,"x":7,"y":76},{"p":41,"x":8,"y":72},{"p":41,"x":9,"y":67},{"p":41,"x":10,"y":61},{"p":41,"x":11,"y":56},{"p":41,"x":12,"y":52},{"p":41,"x":13,"y":48},{"p":41,"x":14,"y":45},{"p":41,"x":15,"y":42},{"p":41,"x":16,"y":39},{"p":41,"x":17,"y":37},{"p":41,"x":18,"y":35},{"p":41,"x":19,"y":33},{"p":41,"x":20,"y":30},{"p":41,"x":21,"y":28},{"p":41,"x":22,"y":26},{"p":41,"x":23,"y":24},{"p":41,"x":24,"y":23},{"p":41,"x":25,"y":21},{"p":41,"x":26,"y":18},{"p":41,"x":27,"y":14},{"p":41,"x":28,"y":11},{"p":41,"x":29,"y":7},{"p":41,"x":30,"y":4},
{"p":42,"x":0,"y":0},{"p":42,"x":1,"y":14},{"p":42,"x":2,"y":39},{"p":42,"x":3,"y":60},{"p":42,"x":4,"y":78},{"p":42,"x":5,"y":88},{"p":42,"x":6,"y":84},{"p":42,"x":7,"y":76},{"p":42,"x":8,"y":69},{"p":42,"x":9,"y":62},{"p":42,"x":10,"y":55},{"p":42,"x":11,"y":49},{"p":42,"x":12,"y":43},{"p":42,"x":13,"y":37},{"p":42,"x":14,"y":31},{"p":42,"x":15,"y":26},{"p":42,"x":16,"y":21},{"p":42,"x":17,"y":17},{"p":42,"x":18,"y":13},{"p":42,"x":19,"y":10},{"p":42,"x":20,"y":7},{"p":42,"x":21,"y":7},{"p":42,"x":22,"y":6},{"p":42,"x":23,"y":6},{"p":42,"x":24,"y":6},{"p":42,"x":25,"y":5},{"p":42,"x":26,"y":5},{"p":42,"x":27,"y":4},{"p":42,"x":28,"y":3},{"p":42,"x":29,"y":1},{"p":42,"x":30,"y":0},
{"p":43,"x":0,"y":4},{"p":43,"x":1,"y":17},{"p":43,"x":2,"y":38},{"p":43,"x":3,"y":57},{"p":43,"x":4,"y":73},{"p":43,"x":5,"y":86},{"p":43,"x":6,"y":80},{"p":43,"x":7,"y":75},{"p":43,"x":8,"y":70},{"p":43,"x":9,"y":65},{"p":43,"x":10,"y":59},{"p":43,"x":11,"y":54},{"p":43,"x":12,"y":50},{"p":43,"x":13,"y":46},{"p":43,"x":14,"y":42},{"p":43,"x":15,"y":39},{"p":43,"x":16,"y":36},{"p":43,"x":17,"y":33},{"p":43,"x":18,"y":31},{"p":43,"x":19,"y":28},{"p":43,"x":20,"y":26},{"p":43,"x":21,"y":24},{"p":43,"x":22,"y":22},{"p":43,"x":23,"y":20},{"p":43,"x":24,"y":19},{"p":43,"x":25,"y":17},{"p":43,"x":26,"y":15},{"p":43,"x":27,"y":13},{"p":43,"x":28,"y":11},{"p":43,"x":29,"y":8},{"p":43,"x":30,"y":4},
{"p":44,"x":0,"y":4},{"p":44,"x":1,"y":17},{"p":44,"x":2,"y":41},{"p":44,"x":3,"y":58},{"p":44,"x":4,"y":67},{"p":44,"x":5,"y":76},{"p":44,"x":6,"y":82},{"p":44,"x":7,"y":81},{"p":44,"x":8,"y":80},{"p":44,"x":9,"y":78},{"p":44,"x":10,"y":75},{"p":44,"x":11,"y":72},{"p":44,"x":12,"y":68},{"p":44,"x":13,"y":63},{"p":44,"x":14,"y":56},{"p":44,"x":15,"y":50},{"p":44,"x":16,"y":51},{"p":44,"x":17,"y":53},{"p":44,"x":18,"y":54},{"p":44,"x":19,"y":55},{"p":44,"x":20,"y":56},{"p":44,"x":21,"y":56},{"p":44,"x":22,"y":55},{"p":44,"x":23,"y":54},{"p":44,"x":24,"y":52},{"p":44,"x":25,"y":49},{"p":44,"x":26,"y":44},{"p":44,"x":27,"y":36},{"p":44,"x":28,"y":27},{"p":44,"x":29,"y":16},{"p":44,"x":30,"y":5},
{"p":45,"x":0,"y":12},{"p":45,"x":1,"y":35},{"p":45,"x":2,"y":62},{"p":45,"x":3,"y":75},{"p":45,"x":4,"y":83},{"p":45,"x":5,"y":86},{"p":45,"x":6,"y":88},{"p":45,"x":7,"y":89},{"p":45,"x":8,"y":88},{"p":45,"x":9,"y":85},{"p":45,"x":10,"y":80},{"p":45,"x":11,"y":74},{"p":45,"x":12,"y":68},{"p":45,"x":13,"y":62},{"p":45,"x":14,"y":56},{"p":45,"x":15,"y":50},{"p":45,"x":16,"y":60},{"p":45,"x":17,"y":68},{"p":45,"x":18,"y":74},{"p":45,"x":19,"y":79},{"p":45,"x":20,"y":82},{"p":45,"x":21,"y":85},{"p":45,"x":22,"y":86},{"p":45,"x":23,"y":84},{"p":45,"x":24,"y":81},{"p":45,"x":25,"y":77},{"p":45,"x":26,"y":71},{"p":45,"x":27,"y":63},{"p":45,"x":28,"y":51},{"p":45,"x":29,"y":37},{"p":45,"x":30,"y":12},
{"p":46,"x":0,"y":17},{"p":46,"x":1,"y":40},{"p":46,"x":2,"y":64},{"p":46,"x":3,"y":76},{"p":46,"x":4,"y":84},{"p":46,"x":5,"y":89},{"p":46,"x":6,"y":93},{"p":46,"x":7,"y":96},{"p":46,"x":8,"y":97},{"p":46,"x":9,"y":95},{"p":46,"x":10,"y":91},{"p":46,"x":11,"y":86},{"p":46,"x":12,"y":80},{"p":46,"x":13,"y":73},{"p":46,"x":14,"y":64},{"p":46,"x":15,"y":55},{"p":46,"x":16,"y":67},{"p":46,"x":17,"y":78},{"p":46,"x":18,"y":86},{"p":46,"x":19,"y":91},{"p":46,"x":20,"y":94},{"p":46,"x":21,"y":96},{"p":46,"x":22,"y":97},{"p":46,"x":23,"y":96},{"p":46,"x":24,"y":94},{"p":46,"x":25,"y":91},{"p":46,"x":26,"y":86},{"p":46,"x":27,"y":79},{"p":46,"x":28,"y":70},{"p":46,"x":29,"y":58},{"p":46,"x":30,"y":17},
{"p":47,"x":0,"y":14},{"p":47,"x":1,"y":32},{"p":47,"x":2,"y":53},{"p":47,"x":3,"y":69},{"p":47,"x":4,"y":79},{"p":47,"x":5,"y":86},{"p":47,"x":6,"y":90},{"p":47,"x":7,"y":94},{"p":47,"x":8,"y":96},{"p":47,"x":9,"y":94},{"p":47,"x":10,"y":91},{"p":47,"x":11,"y":87},{"p":47,"x":12,"y":83},{"p":47,"x":13,"y":78},{"p":47,"x":14,"y":68},{"p":47,"x":15,"y":53},{"p":47,"x":16,"y":68},{"p":47,"x":17,"y":76},{"p":47,"x":18,"y":82},{"p":47,"x":19,"y":87},{"p":47,"x":20,"y":90},{"p":47,"x":21,"y":93},{"p":47,"x":22,"y":92},{"p":47,"x":23,"y":91},{"p":47,"x":24,"y":89},{"p":47,"x":25,"y":85},{"p":47,"x":26,"y":80},{"p":47,"x":27,"y":74},{"p":47,"x":28,"y":62},{"p":47,"x":29,"y":45},{"p":47,"x":30,"y":14},
{"p":48,"x":0,"y":3},{"p":48,"x":1,"y":19},{"p":48,"x":2,"y":46},{"p":48,"x":3,"y":61},{"p":48,"x":4,"y":72},{"p":48,"x":5,"y":81},{"p":48,"x":6,"y":83},{"p":48,"x":7,"y":85},{"p":48,"x":8,"y":86},{"p":48,"x":9,"y":85},{"p":48,"x":10,"y":82},{"p":48,"x":11,"y":78},{"p":48,"x":12,"y":70},{"p":48,"x":13,"y":63},{"p":48,"x":14,"y":55},{"p":48,"x":15,"y":48},{"p":48,"x":16,"y":51},{"p":48,"x":17,"y":54},{"p":48,"x":18,"y":57},{"p":48,"x":19,"y":59},{"p":48,"x":20,"y":61},{"p":48,"x":21,"y":60},{"p":48,"x":22,"y":58},{"p":48,"x":23,"y":56},{"p":48,"x":24,"y":50},{"p":48,"x":25,"y":43},{"p":48,"x":26,"y":37},{"p":48,"x":27,"y":30},{"p":48,"x":28,"y":23},{"p":48,"x":29,"y":13},{"p":48,"x":30,"y":3},
{"p":49,"x":0,"y":3},{"p":49,"x":1,"y":18},{"p":49,"x":2,"y":40},{"p":49,"x":3,"y":54},{"p":49,"x":4,"y":66},{"p":49,"x":5,"y":74},{"p":49,"x":6,"y":77},{"p":49,"x":7,"y":79},{"p":49,"x":8,"y":77},{"p":49,"x":9,"y":75},{"p":49,"x":10,"y":72},{"p":49,"x":11,"y":68},{"p":49,"x":12,"y":65},{"p":49,"x":13,"y":62},{"p":49,"x":14,"y":56},{"p":49,"x":15,"y":51},{"p":49,"x":16,"y":46},{"p":49,"x":17,"y":43},{"p":49,"x":18,"y":40},{"p":49,"x":19,"y":37},{"p":49,"x":20,"y":33},{"p":49,"x":21,"y":30},{"p":49,"x":22,"y":27},{"p":49,"x":23,"y":25},{"p":49,"x":24,"y":22},{"p":49,"x":25,"y":19},{"p":49,"x":26,"y":17},{"p":49,"x":27,"y":14},{"p":49,"x":28,"y":11},{"p":49,"x":29,"y":7},{"p":49,"x":30,"y":2},
{"p":50,"x":0,"y":1},{"p":50,"x":1,"y":20},{"p":50,"x":2,"y":46},{"p":50,"x":3,"y":61},{"p":50,"x":4,"y":72},{"p":50,"x":5,"y":79},{"p":50,"x":6,"y":77},{"p":50,"x":7,"y":74},{"p":50,"x":8,"y":72},{"p":50,"x":9,"y":68},{"p":50,"x":10,"y":65},{"p":50,"x":11,"y":60},{"p":50,"x":12,"y":56},{"p":50,"x":13,"y":52},{"p":50,"x":14,"y":47},{"p":50,"x":15,"y":42},{"p":50,"x":16,"y":38},{"p":50,"x":17,"y":34},{"p":50,"x":18,"y":31},{"p":50,"x":19,"y":27},{"p":50,"x":20,"y":23},{"p":50,"x":21,"y":20},{"p":50,"x":22,"y":18},{"p":50,"x":23,"y":16},{"p":50,"x":24,"y":14},{"p":50,"x":25,"y":12},{"p":50,"x":26,"y":10},{"p":50,"x":27,"y":7},{"p":50,"x":28,"y":5},{"p":50,"x":29,"y":3},{"p":50,"x":30,"y":1},
{"p":51,"x":0,"y":2},{"p":51,"x":1,"y":20},{"p":51,"x":2,"y":40},{"p":51,"x":3,"y":54},{"p":51,"x":4,"y":66},{"p":51,"x":5,"y":76},{"p":51,"x":6,"y":74},{"p":51,"x":7,"y":72},{"p":51,"x":8,"y":69},{"p":51,"x":9,"y":66},{"p":51,"x":10,"y":63},{"p":51,"x":11,"y":60},{"p":51,"x":12,"y":57},{"p":51,"x":13,"y":53},{"p":51,"x":14,"y":50},{"p":51,"x":15,"y":46},{"p":51,"x":16,"y":42},{"p":51,"x":17,"y":39},{"p":51,"x":18,"y":35},{"p":51,"x":19,"y":32},{"p":51,"x":20,"y":29},{"p":51,"x":21,"y":26},{"p":51,"x":22,"y":23},{"p":51,"x":23,"y":21},{"p":51,"x":24,"y":18},{"p":51,"x":25,"y":16},{"p":51,"x":26,"y":14},{"p":51,"x":27,"y":12},{"p":51,"x":28,"y":10},{"p":51,"x":29,"y":7},{"p":51,"x":30,"y":2},
{"p":52,"x":0,"y":2},{"p":52,"x":1,"y":16},{"p":52,"x":2,"y":33},{"p":52,"x":3,"y":49},{"p":52,"x":4,"y":63},{"p":52,"x":5,"y":73},{"p":52,"x":6,"y":79},{"p":52,"x":7,"y":77},{"p":52,"x":8,"y":76},{"p":52,"x":9,"y":74},{"p":52,"x":10,"y":71},{"p":52,"x":11,"y":67},{"p":52,"x":12,"y":63},{"p":52,"x":13,"y":58},{"p":52,"x":14,"y":53},{"p":52,"x":15,"y":48},{"p":52,"x":16,"y":49},{"p":52,"x":17,"y":51},{"p":52,"x":18,"y":52},{"p":52,"x":19,"y":52},{"p":52,"x":20,"y":53},{"p":52,"x":21,"y":53},{"p":52,"x":22,"y":50},{"p":52,"x":23,"y":48},{"p":52,"x":24,"y":44},{"p":52,"x":25,"y":38},{"p":52,"x":26,"y":31},{"p":52,"x":27,"y":22},{"p":52,"x":28,"y":14},{"p":52,"x":29,"y":8},{"p":52,"x":30,"y":2},
{"p":53,"x":0,"y":3},{"p":53,"x":1,"y":17},{"p":53,"x":2,"y":41},{"p":53,"x":3,"y":56},{"p":53,"x":4,"y":69},{"p":53,"x":5,"y":81},{"p":53,"x":6,"y":87},{"p":53,"x":7,"y":90},{"p":53,"x":8,"y":87},{"p":53,"x":9,"y":84},{"p":53,"x":10,"y":79},{"p":53,"x":11,"y":71},{"p":53,"x":12,"y":65},{"p":53,"x":13,"y":58},{"p":53,"x":14,"y":50},{"p":53,"x":15,"y":43},{"p":53,"x":16,"y":53},{"p":53,"x":17,"y":66},{"p":53,"x":18,"y":76},{"p":53,"x":19,"y":83},{"p":53,"x":20,"y":85},{"p":53,"x":21,"y":86},{"p":53,"x":22,"y":83},{"p":53,"x":23,"y":80},{"p":53,"x":24,"y":71},{"p":53,"x":25,"y":61},{"p":53,"x":26,"y":50},{"p":53,"x":27,"y":35},{"p":53,"x":28,"y":20},{"p":53,"x":29,"y":11},{"p":53,"x":30,"y":3},
{"p":54,"x":0,"y":3},{"p":54,"x":1,"y":20},{"p":54,"x":2,"y":38},{"p":54,"x":3,"y":57},{"p":54,"x":4,"y":72},{"p":54,"x":5,"y":86},{"p":54,"x":6,"y":91},{"p":54,"x":7,"y":96},{"p":54,"x":8,"y":95},{"p":54,"x":9,"y":91},{"p":54,"x":10,"y":85},{"p":54,"x":11,"y":75},{"p":54,"x":12,"y":61},{"p":54,"x":13,"y":49},{"p":54,"x":14,"y":39},{"p":54,"x":15,"y":34},{"p":54,"x":16,"y":42},{"p":54,"x":17,"y":53},{"p":54,"x":18,"y":64},{"p":54,"x":19,"y":77},{"p":54,"x":20,"y":88},{"p":54,"x":21,"y":95},{"p":54,"x":22,"y":96},{"p":54,"x":23,"y":87},{"p":54,"x":24,"y":74},{"p":54,"x":25,"y":59},{"p":54,"x":26,"y":43},{"p":54,"x":27,"y":30},{"p":54,"x":28,"y":16},{"p":54,"x":29,"y":8},{"p":54,"x":30,"y":3},
{"p":55,"x":0,"y":3},{"p":55,"x":1,"y":16},{"p":55,"x":2,"y":34},{"p":55,"x":3,"y":53},{"p":55,"x":4,"y":71},{"p":55,"x":5,"y":84},{"p":55,"x":6,"y":89},{"p":55,"x":7,"y":92},{"p":55,"x":8,"y":94},{"p":55,"x":9,"y":90},{"p":55,"x":10,"y":84},{"p":55,"x":11,"y":77},{"p":55,"x":12,"y":63},{"p":55,"x":13,"y":54},{"p":55,"x":14,"y":45},{"p":55,"x":15,"y":40},{"p":55,"x":16,"y":46},{"p":55,"x":17,"y":59},{"p":55,"x":18,"y":69},{"p":55,"x":19,"y":78},{"p":55,"x":20,"y":83},{"p":55,"x":21,"y":87},{"p":55,"x":22,"y":87},{"p":55,"x":23,"y":82},{"p":55,"x":24,"y":76},{"p":55,"x":25,"y":66},{"p":55,"x":26,"y":55},{"p":55,"x":27,"y":41},{"p":55,"x":28,"y":29},{"p":55,"x":29,"y":16},{"p":55,"x":30,"y":3},
{"p":56,"x":0,"y":0},{"p":56,"x":1,"y":12},{"p":56,"x":2,"y":27},{"p":56,"x":3,"y":41},{"p":56,"x":4,"y":55},{"p":56,"x":5,"y":70},{"p":56,"x":6,"y":75},{"p":56,"x":7,"y":79},{"p":56,"x":8,"y":82},{"p":56,"x":9,"y":81},{"p":56,"x":10,"y":79},{"p":56,"x":11,"y":75},{"p":56,"x":12,"y":70},{"p":56,"x":13,"y":65},{"p":56,"x":14,"y":61},{"p":56,"x":15,"y":58},{"p":56,"x":16,"y":58},{"p":56,"x":17,"y":58},{"p":56,"x":18,"y":60},{"p":56,"x":19,"y":61},{"p":56,"x":20,"y":62},{"p":56,"x":21,"y":60},{"p":56,"x":22,"y":57},{"p":56,"x":23,"y":53},{"p":56,"x":24,"y":47},{"p":56,"x":25,"y":41},{"p":56,"x":26,"y":33},{"p":56,"x":27,"y":24},{"p":56,"x":28,"y":16},{"p":56,"x":29,"y":8},{"p":56,"x":30,"y":0},
{"p":57,"x":0,"y":0},{"p":57,"x":1,"y":4},{"p":57,"x":2,"y":12},{"p":57,"x":3,"y":24},{"p":57,"x":4,"y":37},{"p":57,"x":5,"y":46},{"p":57,"x":6,"y":53},{"p":57,"x":7,"y":61},{"p":57,"x":8,"y":69},{"p":57,"x":9,"y":75},{"p":57,"x":10,"y":79},{"p":57,"x":11,"y":82},{"p":57,"x":12,"y":83},{"p":57,"x":13,"y":81},{"p":57,"x":14,"y":78},{"p":57,"x":15,"y":74},{"p":57,"x":16,"y":69},{"p":57,"x":17,"y":63},{"p":57,"x":18,"y":58},{"p":57,"x":19,"y":53},{"p":57,"x":20,"y":47},{"p":57,"x":21,"y":43},{"p":57,"x":22,"y":38},{"p":57,"x":23,"y":34},{"p":57,"x":24,"y":30},{"p":57,"x":25,"y":25},{"p":57,"x":26,"y":19},{"p":57,"x":27,"y":14},{"p":57,"x":28,"y":9},{"p":57,"x":29,"y":4},{"p":57,"x":30,"y":0},
{"p":58,"x":0,"y":0},{"p":58,"x":1,"y":3},{"p":58,"x":2,"y":10},{"p":58,"x":3,"y":20},{"p":58,"x":4,"y":30},{"p":58,"x":5,"y":42},{"p":58,"x":6,"y":50},{"p":58,"x":7,"y":58},{"p":58,"x":8,"y":65},{"p":58,"x":9,"y":72},{"p":58,"x":10,"y":77},{"p":58,"x":11,"y":80},{"p":58,"x":12,"y":81},{"p":58,"x":13,"y":80},{"p":58,"x":14,"y":78},{"p":58,"x":15,"y":74},{"p":58,"x":16,"y":67},{"p":58,"x":17,"y":60},{"p":58,"x":18,"y":55},{"p":58,"x":19,"y":49},{"p":58,"x":20,"y":43},{"p":58,"x":21,"y":37},{"p":58,"x":22,"y":32},{"p":58,"x":23,"y":28},{"p":58,"x":24,"y":24},{"p":58,"x":25,"y":19},{"p":58,"x":26,"y":15},{"p":58,"x":27,"y":11},{"p":58,"x":28,"y":6},{"p":58,"x":29,"y":3},{"p":58,"x":30,"y":0},
{"p":59,"x":0,"y":0},{"p":59,"x":1,"y":3},{"p":59,"x":2,"y":9},{"p":59,"x":3,"y":18},{"p":59,"x":4,"y":27},{"p":59,"x":5,"y":38},{"p":59,"x":6,"y":47},{"p":59,"x":7,"y":54},{"p":59,"x":8,"y":60},{"p":59,"x":9,"y":66},{"p":59,"x":10,"y":72},{"p":59,"x":11,"y":76},{"p":59,"x":12,"y":78},{"p":59,"x":13,"y":78},{"p":59,"x":14,"y":78},{"p":59,"x":15,"y":78},{"p":59,"x":16,"y":75},{"p":59,"x":17,"y":72},{"p":59,"x":18,"y":67},{"p":59,"x":19,"y":61},{"p":59,"x":20,"y":54},{"p":59,"x":21,"y":48},{"p":59,"x":22,"y":42},{"p":59,"x":23,"y":37},{"p":59,"x":24,"y":31},{"p":59,"x":25,"y":26},{"p":59,"x":26,"y":21},{"p":59,"x":27,"y":16},{"p":59,"x":28,"y":10},{"p":59,"x":29,"y":4},{"p":59,"x":30,"y":0},
{"p":60,"x":0,"y":0},{"p":60,"x":1,"y":6},{"p":60,"x":2,"y":15},{"p":60,"x":3,"y":27},{"p":60,"x":4,"y":42},{"p":60,"x":5,"y":52},{"p":60,"x":6,"y":58},{"p":60,"x":7,"y":64},{"p":60,"x":8,"y":71},{"p":60,"x":9,"y":73},{"p":60,"x":10,"y":74},{"p":60,"x":11,"y":73},{"p":60,"x":12,"y":71},{"p":60,"x":13,"y":69},{"p":60,"x":14,"y":67},{"p":60,"x":15,"y":65},{"p":60,"x":16,"y":65},{"p":60,"x":17,"y":65},{"p":60,"x":18,"y":65},{"p":60,"x":19,"y":64},{"p":60,"x":20,"y":63},{"p":60,"x":21,"y":59},{"p":60,"x":22,"y":55},{"p":60,"x":23,"y":50},{"p":60,"x":24,"y":44},{"p":60,"x":25,"y":37},{"p":60,"x":26,"y":30},{"p":60,"x":27,"y":22},{"p":60,"x":28,"y":14},{"p":60,"x":29,"y":6},{"p":60,"x":30,"y":0},
{"p":61,"x":0,"y":0},{"p":61,"x":1,"y":12},{"p":61,"x":2,"y":28},{"p":61,"x":3,"y":45},{"p":61,"x":4,"y":60},{"p":61,"x":5,"y":70},{"p":61,"x":6,"y":77},{"p":61,"x":7,"y":81},{"p":61,"x":8,"y":83},{"p":61,"x":9,"y":80},{"p":61,"x":10,"y":76},{"p":61,"x":11,"y":69},{"p":61,"x":12,"y":60},{"p":61,"x":13,"y":54},{"p":61,"x":14,"y":47},{"p":61,"x":15,"y":44},{"p":61,"x":16,"y":50},{"p":61,"x":17,"y":58},{"p":61,"x":18,"y":70},{"p":61,"x":19,"y":77},{"p":61,"x":20,"y":82},{"p":61,"x":21,"y":82},{"p":61,"x":22,"y":78},{"p":61,"x":23,"y":72},{"p":61,"x":24,"y":63},{"p":61,"x":25,"y":53},{"p":61,"x":26,"y":42},{"p":61,"x":27,"y":31},{"p":61,"x":28,"y":19},{"p":61,"x":29,"y":9},{"p":61,"x":30,"y":0},
{"p":62,"x":0,"y":0},{"p":62,"x":1,"y":8},{"p":62,"x":2,"y":21},{"p":62,"x":3,"y":39},{"p":62,"x":4,"y":56},{"p":62,"x":5,"y":75},{"p":62,"x":6,"y":88},{"p":62,"x":7,"y":93},{"p":62,"x":8,"y":93},{"p":62,"x":9,"y":87},{"p":62,"x":10,"y":77},{"p":62,"x":11,"y":64},{"p":62,"x":12,"y":51},{"p":62,"x":13,"y":41},{"p":62,"x":14,"y":31},{"p":62,"x":15,"y":25},{"p":62,"x":16,"y":33},{"p":62,"x":17,"y":43},{"p":62,"x":18,"y":57},{"p":62,"x":19,"y":69},{"p":62,"x":20,"y":83},{"p":62,"x":21,"y":91},{"p":62,"x":22,"y":96},{"p":62,"x":23,"y":91},{"p":62,"x":24,"y":81},{"p":62,"x":25,"y":64},{"p":62,"x":26,"y":52},{"p":62,"x":27,"y":33},{"p":62,"x":28,"y":21},{"p":62,"x":29,"y":9},{"p":62,"x":30,"y":0},
{"p":63,"x":0,"y":0},{"p":63,"x":1,"y":10},{"p":63,"x":2,"y":23},{"p":63,"x":3,"y":36},{"p":63,"x":4,"y":55},{"p":63,"x":5,"y":73},{"p":63,"x":6,"y":83},{"p":63,"x":7,"y":88},{"p":63,"x":8,"y":91},{"p":63,"x":9,"y":89},{"p":63,"x":10,"y":84},{"p":63,"x":11,"y":77},{"p":63,"x":12,"y":66},{"p":63,"x":13,"y":55},{"p":63,"x":14,"y":44},{"p":63,"x":15,"y":36},{"p":63,"x":16,"y":45},{"p":63,"x":17,"y":56},{"p":63,"x":18,"y":66},{"p":63,"x":19,"y":77},{"p":63,"x":20,"y":84},{"p":63,"x":21,"y":89},{"p":63,"x":22,"y":87},{"p":63,"x":23,"y":84},{"p":63,"x":24,"y":78},{"p":63,"x":25,"y":66},{"p":63,"x":26,"y":53},{"p":63,"x":27,"y":40},{"p":63,"x":28,"y":26},{"p":63,"x":29,"y":13},{"p":63,"x":30,"y":0}
]},
"facet": {"field": "p", "type": "ordinal", "title": null, "header": {"title": null, "labels": false, "labelExpr": "''", "labelFontSize": 0, "labelPadding": 0, "titlePadding": 0}},
"columns": 8,
"spacing": {"row": 0, "column": 0},
"spec": {
  "width": 75.6,
  "height": 55.6,
  "mark": {"type": "point", "filled": true, "size": 9, "opacity": 1, "shape": "circle"},
  "encoding": {
    "x": {"field": "x", "type": "quantitative", "scale": {"domain": [-1.5, 31.5], "nice": false, "zero": false}, "axis": null},
    "y": {"field": "y", "type": "quantitative", "scale": {"domain": [-5, 105], "nice": false, "zero": false}, "axis": null},
    "color": {"field": "y", "type": "quantitative", "scale": {"scheme": "greenblue", "domain": [0, 85]}, "legend": null}
  }
},
"config": {
  "view": {"stroke": "black", "strokeWidth": 1, "fill": "white"},
  "header": {"labels": false, "title": null, "labelFontSize": 0, "labelPadding": 0, "titlePadding": 0},
  "headerFacet": {"labels": false, "title": null, "labelFontSize": 0, "labelPadding": 0, "titlePadding": 0}
}
}
